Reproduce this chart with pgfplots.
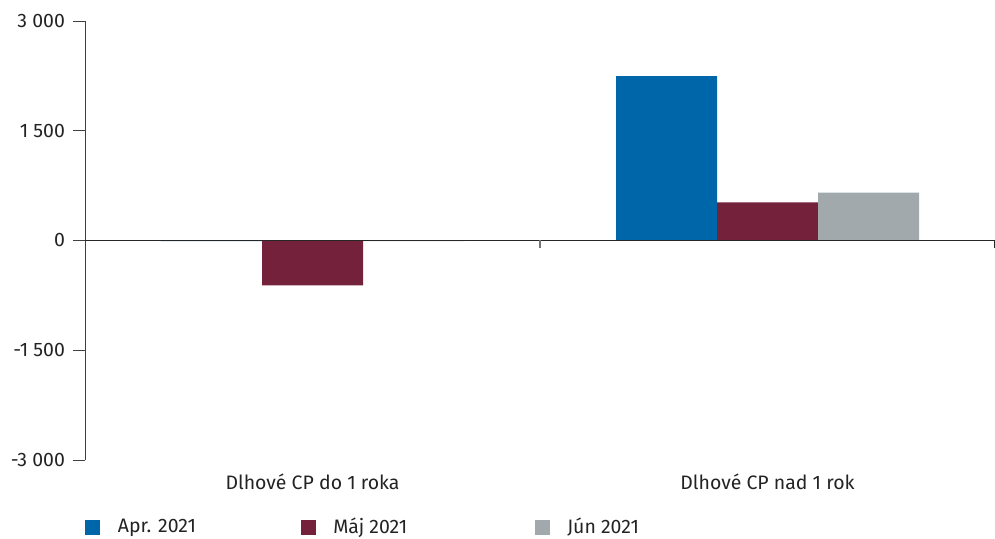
\documentclass[border=0pt]{standalone}
\usepackage{pgfplots}
\pgfplotsset{compat=1.18}
\usepackage{fontspec}
\setmainfont{Fira Sans}
\definecolor{cApr}{RGB}{0,102,170}
\definecolor{cMaj}{RGB}{116,33,60}
\definecolor{cJun}{RGB}{162,169,173}
\definecolor{txt}{RGB}{35,35,35}
\begin{document}
\begin{tikzpicture}
\begin{axis}[
  name=ax,
  scale only axis,
  width=682.5pt, height=329.25pt,
  xmin=-0.5, xmax=1.5,
  ymin=-3000, ymax=3000,
  ytick={-3000,-1500,0,1500,3000},
  xtick={0,1},
  xticklabels={Dlhové CP do 1 roka, Dlhové CP nad 1 rok},
  axis lines*=left,
  x axis line style={draw=none},
  y axis line style={draw=black!75, line width=0.6pt},
  ytick style={draw=black!75, line width=0.6pt},
  tick align=outside,
  major tick length=9pt,
  x tick style={draw=none},
  font=\fontsize{14.6pt}{17pt}\selectfont,
  tick label style={text=txt},
  /pgf/number format/assume math mode=true,
  /pgf/number format/1000 sep={\ },
  yticklabel style={xshift=-2.5pt},
  xticklabel style={yshift=2pt},
  ybar=0pt,
  bar width=75.75pt,
  legend style={at={(0,-0.153)}, anchor=west, draw=none, inner sep=0pt,
    legend columns=3, font=\fontsize{14.6pt}{17pt}\selectfont, text=txt,
    /tikz/every odd column/.append style={column sep=11.25pt}},
  legend image code/.code={\fill[#1] (0pt,-5.6pt) rectangle (11.25pt,5.6pt);},
  legend cell align=left,
]
\addplot[fill=cApr, draw=none] coordinates {(0,-8) (1,2245)};
\addlegendentry{\makebox[135pt][l]{Apr. 2021}}
\addplot[fill=cMaj, draw=none] coordinates {(0,-615) (1,520)};
\addlegendentry{\makebox[149pt][l]{Máj 2021}}
\addplot[fill=cJun, draw=none] coordinates {(0,-8) (1,655)};
\addlegendentry{Jún 2021}
\draw[black!85, line width=0.8pt] (axis cs:-0.5,0) -- (axis cs:1.5,0);
\draw[black!55, line width=1pt] (axis cs:0.5,0) -- ([yshift=-6pt]axis cs:0.5,0);
\draw[black!85, line width=0.8pt] (axis cs:1.5,0) -- ([yshift=-6pt]axis cs:1.5,0);
\end{axis}
\pgfresetboundingbox
\path ([xshift=-63.75pt, yshift=-59.25pt]ax.south west) rectangle ([yshift=15.75pt]ax.north east);
\end{tikzpicture}
\end{document}
